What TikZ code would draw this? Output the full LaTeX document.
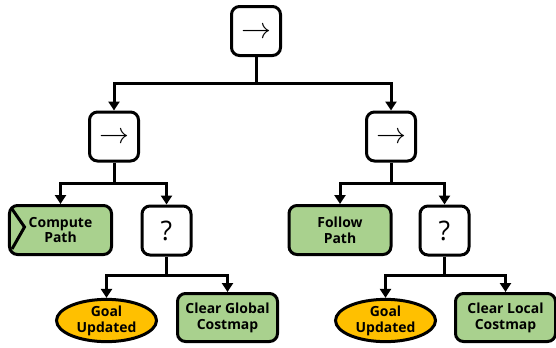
\documentclass[tikz,border=0pt]{standalone}
\usepackage{fontspec}
\setmainfont{Open Sans}
\newfontfamily\arrowfont{Latin Modern Math}
\usetikzlibrary{arrows.meta,shapes.geometric}
\definecolor{actgreen}{RGB}{169,209,142}
\definecolor{condorange}{RGB}{255,192,0}
\begin{document}
\begin{tikzpicture}[x=1bp,y=-1bp,
  ctrl/.style={draw, line width=3bp, rounded corners=8bp, fill=white,
    minimum width=49bp, minimum height=49bp, inner sep=0pt},
  seqbox/.style={ctrl, font=\arrowfont\fontsize{30}{30}\selectfont},
  fallbox/.style={ctrl, font=\fontsize{27}{27}\selectfont},
  actbox/.style={draw, line width=3bp, rounded corners=8bp, fill=actgreen,
    minimum width=102bp, minimum height=49bp, inner sep=0pt, align=center,
    font=\bfseries\fontsize{14}{16}\selectfont},
  condbox/.style={ellipse, draw, line width=3bp, fill=condorange,
    minimum width=100bp, minimum height=42bp, inner sep=0pt, align=center,
    font=\bfseries\fontsize{14}{16}\selectfont},
  link/.style={line width=3bp, -{Triangle[width=11bp,length=9bp]}},
  trunk/.style={line width=3bp}]
\useasboundingbox (0,0) rectangle (556,347);

% nodes
\node[seqbox] (root) at (256,31) {→};
\node[seqbox] (seqL) at (114,136.5) {→};
\node[seqbox] (seqR) at (391,136.5) {→};
\node[actbox] (compute) at (60.5,230) {Compute\\Path};
\node[fallbox] (fbL) at (166.5,230.5) {?};
\node[actbox] (follow) at (340,230) {Follow\\Path};
\node[fallbox] (fbR) at (444.5,230.5) {?};
\node[condbox] (goalL) at (106.5,320.5) {Goal\\Updated};
\node[actbox, minimum width=100bp, minimum height=48bp] (clearG) at (227.5,317.5) {Clear Global\\Costmap};
\node[condbox] (goalR) at (385.5,320.5) {Goal\\Updated};
\node[actbox, minimum width=100bp, minimum height=48bp] (clearL) at (505.5,317.5) {Clear Local\\Costmap};

% chevron on Compute Path
\coordinate (chA) at (11,207.5);
\coordinate (chB) at (24.5,227);
\coordinate (chC) at (12,249);
\draw[line width=3bp, line join=miter] (chA) -- (chB) -- (chC);

% junctions
\coordinate (j0) at (256,83);
\coordinate (j1) at (114,183);
\coordinate (j2) at (391,183);
\coordinate (j3) at (166.5,275);
\coordinate (j4) at (444.5,275);

% connectors
\draw[trunk] (root.south) -- (j0);
\draw[link] (j0) -| (seqL.north);
\draw[link] (j0) -| (seqR.north);

\draw[trunk] (seqL.south) -- (j1);
\draw[link] (j1) -| (compute.north);
\draw[link] (j1) -| (fbL.north);

\draw[trunk] (seqR.south) -- (j2);
\draw[link] (j2) -| (follow.north);
\draw[link] (j2) -| (fbR.north);

\draw[trunk] (fbL.south) -- (j3);
\draw[link] (j3) -| (goalL.north);
\draw[link] (j3) -| (clearG.north);

\draw[trunk] (fbR.south) -- (j4);
\draw[link] (j4) -| (goalR.north);
\draw[link] (j4) -| (clearL.north);
\end{tikzpicture}
\end{document}
